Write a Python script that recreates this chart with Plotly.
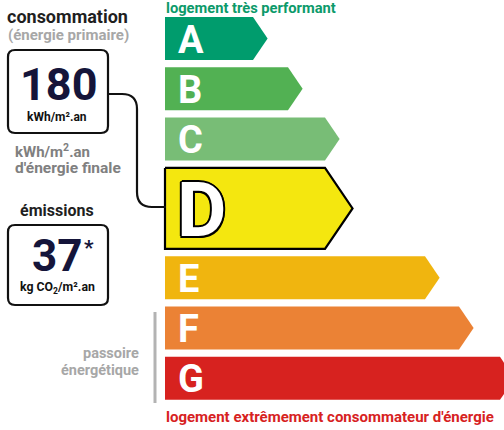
import plotly.graph_objects as go

# ---- data ----
classes = ["A", "B", "C", "D", "E", "F", "G"]
class_colors = ["#009c6d", "#52b153", "#78bd76", "#f4e70f", "#f0b50f", "#eb8235", "#d7221f"]
bar_lengths = [88, 123, 160, 160, 260, 294, 335]   # body length of each class arrow
active_class = "D"
energy_value = 180
energy_unit = "kWh/m².an"
ges_value = 37
ges_unit = "kg CO<sub>2</sub>/m².an"
top_label = "logement très performant"
bottom_label = "logement extrêmement consommateur d'énergie"

FONT = "Roboto"

fig = go.Figure()

# ---- geometry of the scale ----
x0 = 165
row_h = 43
gap = 7.3
active_h = 81
y = 17
shapes = []
annotations = []
for cls, col, L in zip(classes, class_colors, bar_lengths):
    h = active_h if cls == active_class else row_h
    tip = h * 0.34
    xe = x0 + L
    xs = [x0, xe, xe + tip, xe, x0, x0]
    ys = [y, y, y + h / 2, y + h, y + h, y]
    if cls == active_class:
        fig.add_trace(go.Scatter(x=xs, y=ys, fill="toself", fillcolor=col, mode="lines",
                                 line=dict(color="#000000", width=2.2), hoverinfo="skip",
                                 showlegend=False))
        sh = ", ".join(f"{dx}px {dy}px 0 #000" for dx, dy in
                       [(-2, 0), (2, 0), (0, -2), (0, 2), (-1.5, -1.5), (1.5, -1.5), (-1.5, 1.5), (1.5, 1.5)])
        annotations.append(dict(x=x0 + 10, y=y + h / 2 + 2, text=f"<b>{cls}</b>", showarrow=False,
                                xanchor="left", yanchor="middle",
                                font=dict(family=FONT, size=76, color="white", shadow=sh)))
    else:
        fig.add_trace(go.Scatter(x=xs, y=ys, fill="toself", fillcolor=col, mode="lines",
                                 line=dict(color=col, width=0), hoverinfo="skip",
                                 showlegend=False))
        annotations.append(dict(x=x0 + 11, y=y + h / 2 + 1, text=f"<b>{cls}</b>", showarrow=False,
                                xanchor="left", yanchor="middle",
                                font=dict(family=FONT, size=38, color="white")))
    y += h + gap


def rrect(xa, ya, xb, yb, r):
    return (f"M{xa + r},{ya} L{xb - r},{ya} Q{xb},{ya} {xb},{ya + r} L{xb},{yb - r} "
            f"Q{xb},{yb} {xb - r},{yb} L{xa + r},{yb} Q{xa},{yb} {xa},{yb - r} "
            f"L{xa},{ya + r} Q{xa},{ya} {xa + r},{ya} Z")


# boxes
shapes.append(dict(type="path", path=rrect(8, 50, 108, 133, 7), line=dict(color="#111", width=2.2),
                   xref="x", yref="y"))
shapes.append(dict(type="path", path=rrect(8, 225, 108, 305, 7), line=dict(color="#111", width=2.2),
                   xref="x", yref="y"))
# connector
shapes.append(dict(type="path",
                   path="M108,94 L122,94 Q137,94 137,109 L137,192 Q137,207 152,207 L166,207",
                   line=dict(color="#111", width=2.2), xref="x", yref="y"))
# passoire bar
shapes.append(dict(type="line", x0=155, x1=155, y0=312, y1=403, line=dict(color="#b3b3b3", width=3),
                   xref="x", yref="y"))

dark = "#1f1f1f"
navy = "#15153a"
gray = "#a7a7a7"
gray2 = "#808080"


def txt(x, y, t, size, color, xanchor="left"):
    annotations.append(dict(x=x, y=y, text=t, showarrow=False, xanchor=xanchor, yanchor="middle",
                            font=dict(family=FONT, size=size, color=color)))


txt(5, 16, "<b>consommation</b>", 18, dark)
txt(6, 35, "<b>(énergie primaire)</b>", 15, gray)
txt(58, 84, f"<b>{energy_value}</b>", 45, navy, "center")
txt(57, 117, f"<b>{energy_unit}</b>", 12, "#111", "center")
txt(13, 151, "<b>kWh/m<sup>2</sup>.an</b>", 15, gray2)
txt(13, 168, "<b>d'énergie finale</b>", 15.5, gray2)
txt(57, 210, "<b>émissions</b>", 16, dark, "center")
txt(57, 256, f"<b>{ges_value}</b>", 44, navy, "center")
txt(89, 248, "<b>*</b>", 21, navy, "center")
txt(57, 288, f"<b>{ges_unit}</b>", 12.3, "#111", "center")
txt(141, 353, "<b>passoire</b>", 14.5, gray, "right")
txt(141, 370, "<b>énergétique</b>", 14.5, gray, "right")
txt(164, 8, f"<b>{top_label}</b>", 14.7, "#0c9a6a")
txt(164, 417, f"<b>{bottom_label}</b>", 15, "#d7221f")

fig.update_layout(
    width=504, height=430, margin=dict(l=0, r=0, t=0, b=0),
    paper_bgcolor="white", plot_bgcolor="white",
    xaxis=dict(range=[0, 504], visible=False, fixedrange=True),
    yaxis=dict(range=[430, 0], visible=False, fixedrange=True),
    shapes=shapes, annotations=annotations, showlegend=False,
)
fig.write_html("out.html", config={"displayModeBar": False},
               post_script="document.body.style.margin='0';document.body.style.overflow='hidden';")
